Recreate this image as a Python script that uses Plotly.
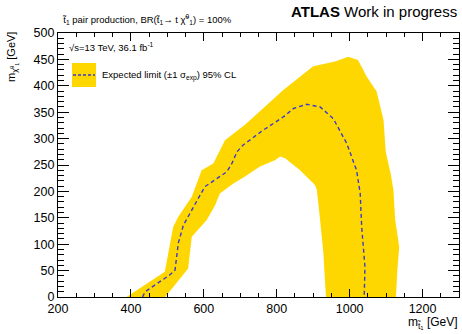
import plotly.graph_objects as go

# Outer edge of the +-1 sigma band (from bottom-left, over the top, to bottom-right)
outer_x = [388, 493, 516, 530, 567, 594, 626, 658, 713, 818, 900, 960, 996,
           1023, 1047, 1074, 1093, 1099, 1113, 1120, 1125, 1136, 1131, 1127]
outer_y = [0, 48, 133, 152, 190, 240, 253, 297, 326, 392, 437, 446, 455,
           449, 417, 389, 335, 275, 232, 203, 146, 95, 51, 0]
# Inner edge of the band (from bottom-right back to bottom-left)
inner_x = [935, 928, 919, 910, 905, 864, 823, 809, 795, 754, 713, 681, 644,
           631, 608, 567, 557, 494]
inner_y = [0, 83, 146, 203, 212, 240, 263, 266, 259, 247, 228, 215, 196,
           174, 146, 114, 54, 0]
# Expected limit contour
exp_x = [432, 439, 507, 521, 530, 544, 585, 603, 663, 677, 691, 708, 763, 818,
         846, 882, 919, 955, 992, 1019, 1029, 1033, 1042, 1040]
exp_y = [0, 10, 42, 51, 102, 136, 187, 209, 237, 253, 275, 288, 316, 341,
         357, 365, 360, 338, 291, 240, 196, 133, 57, 0]

FONT = "Liberation Sans, Arial, Helvetica, sans-serif"
GOLD = "#FFD700"
BLUE = "#3A3ACC"

fig = go.Figure()
fig.add_trace(go.Scatter(x=outer_x + inner_x, y=outer_y + inner_y,
                         fill="toself", fillcolor=GOLD, mode="lines",
                         line=dict(width=0, color=GOLD), hoverinfo="skip",
                         showlegend=False))
fig.add_trace(go.Scatter(x=exp_x, y=exp_y, mode="lines",
                         line=dict(color=BLUE, width=1.4, dash="4px,3px"),
                         showlegend=False))

W, H = 462, 334
L, R, T, B = 58, 3, 33, 37
pw, ph = W - L - R, H - T - B


def px(xp):
    return (xp - L) / pw


def py(yp):
    return (H - B - yp) / ph


fig.update_layout(
    width=W, height=H,
    margin=dict(l=L, r=R, t=T, b=B),
    plot_bgcolor="white", paper_bgcolor="white",
    font=dict(family=FONT, size=12, color="black"),
    showlegend=False,
)
fig.update_xaxes(range=[200, 1300], dtick=200, tick0=200, ticks="inside",
                 ticklen=8, tickwidth=1, tickcolor="black",
                 minor=dict(dtick=50, ticks="inside", ticklen=4, tickcolor="black"),
                 showline=True, linecolor="black", linewidth=1.3, mirror="allticks",
                 showgrid=False, zeroline=False, tickfont=dict(size=12.5))
fig.update_yaxes(range=[0, 500], dtick=50, tick0=0, ticks="inside",
                 ticklen=11, tickwidth=1, tickcolor="black",
                 minor=dict(dtick=10, ticks="inside", ticklen=5.5, tickcolor="black"),
                 showline=True, linecolor="black", linewidth=1.3, mirror="allticks",
                 showgrid=False, zeroline=False, tickfont=dict(size=12.5))

# Legend box drawn manually
fig.add_shape(type="rect", xref="paper", yref="paper",
              x0=px(72), x1=px(96), y0=py(87), y1=py(63),
              fillcolor=GOLD, line=dict(width=0))
fig.add_shape(type="line", xref="paper", yref="paper",
              x0=px(73), x1=px(95), y0=py(75), y1=py(75),
              line=dict(color=BLUE, width=1.4, dash="3px,2px"))

ann = [
    dict(text="t\u0303<sub>1</sub> pair production, BR(t\u0303<sub>1</sub>\u2192 t \u03c7\u0303<sup>0</sup><sub>1</sub>) = 100%",
         x=px(60), y=py(19), xanchor="left", yanchor="middle", size=9.5),
    dict(text="<b>ATLAS</b> Work in progress",
         x=px(459), y=py(12), xanchor="right", yanchor="middle", size=15),
    dict(text="\u221as=13 TeV, 36.1 fb<sup>-1</sup>",
         x=px(67), y=py(47), xanchor="left", yanchor="middle", size=9.5),
    dict(text="Expected limit (\u00b11 \u03c3<sub>exp</sub>) 95% CL",
         x=px(100), y=py(75), xanchor="left", yanchor="middle", size=9.5),
    dict(text="m<sub>t\u0303<sub>1</sub></sub> [GeV]",
         x=px(460), y=py(323), xanchor="right", yanchor="middle", size=12),
]
for a in ann:
    fig.add_annotation(text=a["text"], xref="paper", yref="paper",
                       x=a["x"], y=a["y"], xanchor=a["xanchor"], yanchor=a["yanchor"],
                       showarrow=False, font=dict(family=FONT, size=a["size"], color="black"))

fig.add_annotation(text="m<sub>\u03c7\u0303<sup>0</sup><sub>1</sub></sub> [GeV]",
                   xref="paper", yref="paper", x=px(13), y=py(30),
                   xanchor="center", yanchor="top", textangle=-90,
                   showarrow=False, font=dict(family=FONT, size=11, color="black"))

fig.write_html("out.html")
